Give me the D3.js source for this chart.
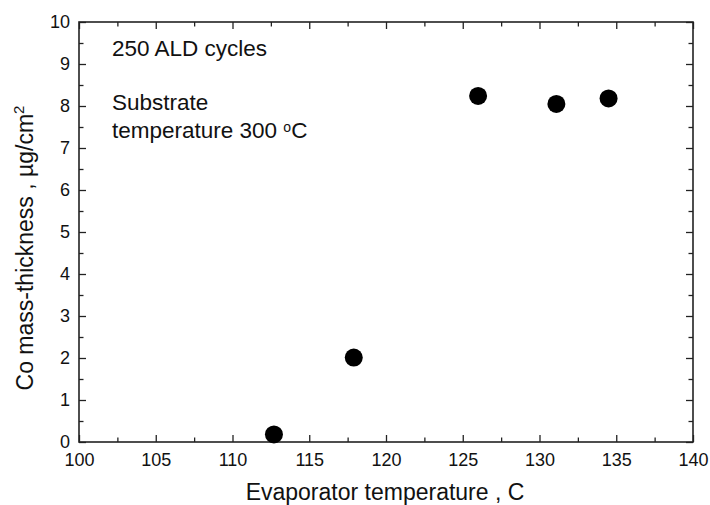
<!DOCTYPE html>
<html>
<head>
<meta charset="utf-8">
<script src="https://cdn.jsdelivr.net/npm/d3@7"></script>
<style>
  body { margin: 0; background: #fff; }
  text { font-family: Arial, "Liberation Sans", sans-serif; fill: #111; }
</style>
</head>
<body>
<div id="chart"></div>
<script>
// evaporator temperature (C) vs Co mass-thickness (ug/cm2)
const evapTemp = [112.7, 117.9, 126.0, 131.1, 134.5];
const massThickness = [0.18, 2.01, 8.24, 8.05, 8.18];
const xTicks = [100, 105, 110, 115, 120, 125, 130, 135, 140];
const yTicks = [0, 1, 2, 3, 4, 5, 6, 7, 8, 9, 10];

const margin = {top: 22, right: 17, bottom: 63, left: 79};
const W = 710, H = 505;
const w = W - margin.left - margin.right;
const h = H - margin.top - margin.bottom;

const svg = d3.select('#chart').append('svg')
  .attr('width', W)
  .attr('height', H);
const g = svg.append('g')
  .attr('transform', `translate(${margin.left}, ${margin.top})`);

const x = d3.scaleLinear().domain([100, 140]).range([0, w]);
const y = d3.scaleLinear().domain([0, 10]).range([h, 0]);

const xMinor = d3.range(102.5, 140, 5);
const yMinor = d3.range(0.5, 10, 1);

// inward ticks on all four sides
function styleAxis(sel) {
  sel.select('.domain').remove();
  sel.selectAll('line').attr('stroke', '#222').attr('stroke-width', 1.3);
  sel.selectAll('text').attr('font-size', 18).attr('fill', '#111');
}
g.append('g').attr('transform', `translate(0, ${h})`)
  .call(d3.axisBottom(x).tickValues(xTicks).tickSizeInner(-7).tickPadding(11).tickSizeOuter(0))
  .call(styleAxis);
g.append('g').attr('transform', `translate(0, ${h})`)
  .call(d3.axisBottom(x).tickValues(xMinor).tickSizeInner(-4.5).tickFormat('').tickSizeOuter(0))
  .call(styleAxis);
g.append('g')
  .call(d3.axisTop(x).tickValues(xTicks).tickSizeInner(-7).tickFormat('').tickSizeOuter(0))
  .call(styleAxis);
g.append('g')
  .call(d3.axisTop(x).tickValues(xMinor).tickSizeInner(-4.5).tickFormat('').tickSizeOuter(0))
  .call(styleAxis);
g.append('g')
  .call(d3.axisLeft(y).tickValues(yTicks).tickSizeInner(-7).tickPadding(9).tickSizeOuter(0))
  .call(styleAxis);
g.append('g')
  .call(d3.axisLeft(y).tickValues(yMinor).tickSizeInner(-4.5).tickFormat('').tickSizeOuter(0))
  .call(styleAxis);
g.append('g').attr('transform', `translate(${w}, 0)`)
  .call(d3.axisRight(y).tickValues(yTicks).tickSizeInner(-7).tickFormat('').tickSizeOuter(0))
  .call(styleAxis);
g.append('g').attr('transform', `translate(${w}, 0)`)
  .call(d3.axisRight(y).tickValues(yMinor).tickSizeInner(-4.5).tickFormat('').tickSizeOuter(0))
  .call(styleAxis);

g.append('rect')
  .attr('width', w).attr('height', h)
  .attr('fill', 'none').attr('stroke', '#222').attr('stroke-width', 1.6);

g.selectAll('circle')
  .data(evapTemp)
  .enter()
  .append('circle')
  .attr('cx', d => x(d))
  .attr('cy', (d, i) => y(massThickness[i]))
  .attr('r', 9)
  .attr('fill', '#000');

// annotations
const note = g.append('g').attr('font-size', 22.5);
note.append('text').attr('x', 33).attr('y', 34).text('250 ALD cycles');
note.append('text').attr('x', 33).attr('y', 88).text('Substrate');
const t = note.append('text').attr('x', 33).attr('y', 116);
t.append('tspan').text('temperature 300 ');
t.append('tspan').attr('font-size', 14).attr('dy', -6).text('o');
t.append('tspan').attr('dy', 6).text('C');

// axis titles
svg.append('text')
  .attr('x', 385)
  .attr('y', 500)
  .attr('text-anchor', 'middle')
  .attr('font-size', 23)
  .text('Evaporator temperature , C');

const yt = svg.append('text')
  .attr('transform', `translate(33, 248) rotate(-90)`)
  .attr('text-anchor', 'middle')
  .attr('font-size', 23);
yt.append('tspan').text('Co mass-thickness , \u00b5g/cm');
yt.append('tspan').attr('font-size', 15).attr('dy', -9).text('2');
</script>
</body>
</html>
